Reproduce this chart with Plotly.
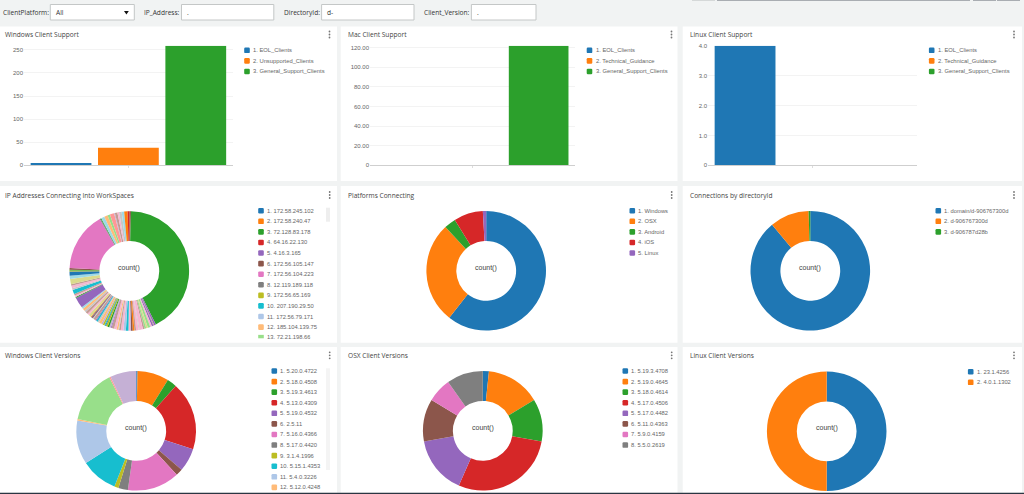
import plotly.graph_objects as go

W, H = 1024, 494

palette = ["#1f77b4", "#ff7f0e", "#2ca02c", "#d62728", "#9467bd", "#8c564b", "#e377c2", "#7f7f7f", "#bcbd22", "#17becf",
           "#aec7e8", "#ffbb78", "#98df8a", "#ff9896", "#c5b0d5", "#c49c94", "#f7b6d2", "#c7c7c7", "#dbdb8d", "#9edae5"]

# bar panels
win_support_labels = ["1. EOL_Clients", "2. Unsupported_Clients", "3. General_Support_Clients"]
win_support_values = [5, 38, 259]
win_ticks = [0, 50, 100, 150, 200, 250]
win_ticktext = ["0", "50", "100", "150", "200", "250"]

mac_support_labels = ["1. EOL_Clients", "2. Technical_Guidance", "3. General_Support_Clients"]
mac_support_values = [0, 0, 122]
mac_ticks = [0, 20, 40, 60, 80, 100, 120]
mac_ticktext = ["0", "20.00", "40.00", "60.00", "80.00", "100.00", "120.00"]

linux_support_labels = ["1. EOL_Clients", "2. Technical_Guidance", "3. General_Support_Clients"]
linux_support_values = [4, 0, 0]
linux_ticks = [0, 1, 2, 3, 4]
linux_ticktext = ["0", "1.0", "2.0", "3.0", "4.0"]

# donut panels
ip_legend = ["1. 172.58.245.102", "2. 172.58.240.47", "3. 72.128.83.178", "4. 64.16.22.130", "5. 4.16.3.165",
             "6. 172.56.105.147", "7. 172.56.104.223", "8. 12.119.189.118", "9. 172.56.65.169", "10. 207.190.29.50",
             "11. 172.56.79.171", "12. 185.104.139.75", "13. 72.21.198.66"]
# slices clockwise from 12 o'clock, as seen in the picture
ip_values = [2, 185,
             2, 1, 2, 2, 3, 2, 2, 2, 4, 1, 3, 2, 2, 2, 1, 2, 3, 3, 3, 2, 1,
             2, 3, 3, 1, 2, 2, 2, 1, 1, 2, 2, 3, 2, 2, 1, 3, 1, 1, 1, 1,
             3, 2, 3, 2, 3, 2,
             13,
             1, 2, 2, 5, 2, 3, 2, 6, 4, 5, 1, 1, 2,
             70,
             1, 1, 4, 4, 3, 5, 1, 3, 2, 3, 3, 4, 2]
ip_color_ids = [5, 2,
                4, 15, 4, 16, 12, 18, 12, 15, 16, 17, 16, 15, 1, 5, 14, 16, 9, 10, 16, 15, 17,
                11, 16, 15, 4, 14, 2, 8, 0, 9, 8, 14, 11, 17, 9, 4, 15, 19, 3, 0, 1,
                18, 16, 15, 17, 11, 19,
                4,
                2, 16, 15, 9, 17, 16, 15, 18, 19, 0, 8, 2, 5,
                6,
                7, 2, 19, 11, 12, 13, 14, 15, 16, 17, 19, 1, 3]

platform_legend = ["1. Windows", "2. OSX", "3. Android", "4. iOS", "5. Linux"]
platform_values = [269, 122, 14, 35, 4]

directory_legend = ["1. domain/d-906767300d", "2. d-906767300d", "3. d-906787d28b"]
directory_values = [395, 47, 2]

win_ver_legend = ["1. 5.20.0.4722", "2. 5.18.0.4508", "3. 5.19.3.4613", "4. 5.13.0.4309", "5. 5.19.0.4532", "6. 2.5.11",
                  "7. 5.16.0.4366", "8. 5.17.0.4420", "9. 3.1.4.1996", "10. 5.15.1.4353", "11. 5.4.0.3226",
                  "12. 5.12.0.4248"]
win_ver_values = [1, 23, 7, 50, 17, 5, 38, 7, 3, 27, 32, 1, 39, 1, 19]

osx_ver_legend = ["1. 5.19.3.4708", "2. 5.19.0.4645", "3. 5.18.0.4614", "4. 5.17.0.4506", "5. 5.17.0.4482",
                  "6. 5.11.0.4363", "7. 5.9.0.4159", "8. 5.5.0.2619"]
osx_ver_values = [2, 18, 14, 35, 19, 14, 8, 12]

linux_ver_legend = ["1. 23.1.4256", "2. 4.0.1.1302"]
linux_ver_values = [2, 2]

TITLE_FONT = dict(family="Open Sans", size=6.6, color="#444444")
LABEL_FONT = dict(family="Liberation Sans", size=5.8, color="#666666")
TICK_FONT = dict(family="Liberation Sans", size=6, color="#666666")
BG = "#f1f3f3"


def fx(px):
    return px / W


def fy(py):
    return 1 - py / H


fig = go.Figure()
shapes = []
annotations = []


def rect(x0, y0, x1, y1, fill, line=None):
    shapes.append(dict(type="rect", xref="paper", yref="paper", x0=fx(x0), y0=fy(y0), x1=fx(x1), y1=fy(y1),
                       fillcolor=fill, line=dict(color=line or fill, width=1 if line else 0), layer="below"))


def text(px, py, s, font, xanchor="left", **kw):
    annotations.append(dict(xref="paper", yref="paper", x=fx(px), y=fy(py), text=s, showarrow=False,
                            xanchor=xanchor, yanchor="middle", font=font, borderpad=0, **kw))


def kebab(px, py):
    for d in (-3, 0, 3):
        shapes.append(dict(type="circle", xref="paper", yref="paper", x0=fx(px - 0.9), x1=fx(px + 0.9),
                           y0=fy(py + d + 0.9), y1=fy(py + d - 0.9), fillcolor="#777777", line_width=0))


def legend(labels, mx, tx, y0, colors=palette, pitch=10.58, clip_last=None):
    for i, lab in enumerate(labels):
        y = y0 + i * pitch
        r = 2.8
        c = 1.2
        path = (f"M {fx(mx-r+c)},{fy(y-r)} L {fx(mx+r-c)},{fy(y-r)} Q {fx(mx+r)},{fy(y-r)} {fx(mx+r)},{fy(y-r+c)} "
                f"L {fx(mx+r)},{fy(y+r-c)} Q {fx(mx+r)},{fy(y+r)} {fx(mx+r-c)},{fy(y+r)} L {fx(mx-r+c)},{fy(y+r)} "
                f"Q {fx(mx-r)},{fy(y+r)} {fx(mx-r)},{fy(y+r-c)} L {fx(mx-r)},{fy(y-r+c)} Q {fx(mx-r)},{fy(y-r)} "
                f"{fx(mx-r+c)},{fy(y-r)} Z")
        if clip_last is not None and i == len(labels) - 1:
            # the last row is cut off by the panel in the original
            rect(mx - r, y - r, mx + r, clip_last, colors[i % 20])
            annotations.append(dict(xref="paper", yref="paper", x=fx(tx), y=fy(y - 4.5), text=lab, showarrow=False,
                                    xanchor="left", yanchor="top", valign="top", font=LABEL_FONT, borderpad=0,
                                    height=clip_last - y + 4.5))
        else:
            shapes.append(dict(type="path", xref="paper", yref="paper", path=path, fillcolor=colors[i % 20],
                               line_width=0))
            text(tx, y, lab, LABEL_FONT)


# page background, filter strip and panels
rows = [(26.5, 181), (186, 342.7), (347, 492.7)]
cols = [(0, 337), (340.7, 677.5), (682.7, 1022)]
for y0, y1 in rows:
    for x0, x1 in cols:
        rect(x0, y0, x1, y1, "white")
rect(0, 492.7, W, H, "#2b3642")
for x0, x1, c in [(692, 715, "#d5d8d8"), (717, 970, "#a9adb2"), (973, 996, "#a9adb2"), (997, 1020, "#a9adb2")]:
    rect(x0, 0, x1, 1, c)

filters = [("ClientPlatform:", 2, 50.3, 134.3, "All"), ("IP_Address:", 143, 181.5, 273.8, "."),
           ("DirectoryId:", 283, 321.6, 414, "d-"), ("Client_Version:", 423, 471.4, 536, ".")]
filter_font = dict(family="Open Sans", size=6.6, color="#333333")
for name, lx, x0, x1, val in filters:
    text(lx, 13, name, filter_font)
    rect(x0, 4.5, x1, 20, "white", "#c4c7c7")
    text(x0 + 4.5, 13, val, filter_font)
shapes.append(dict(type="path", xref="paper", yref="paper", fillcolor="#111111", line_width=0,
                   path=f"M {fx(124)},{fy(11)} L {fx(128.8)},{fy(11)} L {fx(126.4)},{fy(14.6)} Z"))

# bar panels
bar_panels = [
    ("Windows Client Support", 4, win_support_labels, win_support_values, win_ticks, win_ticktext, 24, 232.8, 259, 329.5, 247, 252.4),
    ("Mac Client Support", 346.8, mac_support_labels, mac_support_values, mac_ticks, mac_ticktext, 370, 575, 122, 671.5, 589.5, 595),
    ("Linux Client Support", 688.7, linux_support_labels, linux_support_values, linux_ticks, linux_ticktext, 708, 917, 4, 1014, 931.7, 936.7),
]
layout_axes = {}
for n, (title, tx, labels, values, ticks, ticktext, x0, x1, ymax, kx, mx, lx) in enumerate(bar_panels, start=1):
    suffix = "" if n == 1 else str(n)
    for i, (lab, val) in enumerate(zip(labels, values)):
        fig.add_trace(go.Bar(x=["count"], y=[val], name=lab, marker=dict(color=palette[i], line_width=0),
                             xaxis=f"x{suffix}", yaxis=f"y{suffix}", showlegend=False))
    layout_axes[f"xaxis{suffix}"] = dict(domain=[fx(x0), fx(x1)], anchor=f"y{suffix}", type="category",
                                         range=[-0.5, 0.5], showticklabels=False, ticks="outside", ticklen=2,
                                         tickcolor="#dddddd", showgrid=False, showline=True, linecolor="#cfcfcf",
                                         linewidth=1, zeroline=False, automargin=False)
    layout_axes[f"yaxis{suffix}"] = dict(domain=[fy(165.3), fy(45.7)], anchor=f"x{suffix}", range=[0, ymax],
                                         tickvals=ticks, ticktext=ticktext, gridcolor="#f3f3f3", gridwidth=1,
                                         zeroline=False, showline=False, ticks="", automargin=False,
                                         tickfont=TICK_FONT)
    text(tx, 34.3, title, TITLE_FONT)
    kebab(kx, 34.5)
    legend(labels, mx, lx, 50.3)

# donut panels: values, colours, title, title x, kebab x, row y's, centre, legend
R = 59.8
pie_panels = [
    ("IP Addresses Connecting Into WorkSpaces", 4, 329.7, 195, ip_values, [palette[i] for i in ip_color_ids], 129.3, 271, ip_legend, 261, 266, 210.7),
    ("Platforms Connecting", 346.7, 671.7, 195, platform_values, palette, 486.2, 270.8, platform_legend, 632.3, 637, 210.7),
    ("Connections by directoryId", 688.7, 1014, 195, directory_values, palette, 810.3, 270.8, directory_legend, 938.3, 943.3, 210.7),
    ("Windows Client Versions", 4, 329.7, 355.3, win_ver_values, palette, 136.2, 430.8, win_ver_legend, 274.3, 279.3, 371),
    ("OSX Client Versions", 346.7, 671.7, 355.3, osx_ver_values, palette, 482.8, 430.8, osx_ver_legend, 625.3, 630.3, 371),
    ("Linux Client Versions", 688.7, 1014, 355.3, linux_ver_values, palette, 826.7, 431.3, linux_ver_legend, 970.7, 976, 371.7),
]
for title, tx, kx, ty, values, colors, cx, cy, leg, mx, lx, ly in pie_panels:
    fig.add_trace(go.Pie(values=values, sort=False, direction="clockwise", rotation=0, hole=0.5,
                         marker=dict(colors=colors, line_width=0), textinfo="none", showlegend=False,
                         domain=dict(x=[fx(cx - R), fx(cx + R)], y=[fy(cy + R), fy(cy - R)])))
    text(tx, ty, title, TITLE_FONT)
    kebab(kx, ty)
    text(cx, cy - 3, "count()", dict(family="Liberation Sans", size=7, color="#444444"), xanchor="center")
    if leg is ip_legend:
        legend(leg, mx, lx, ly, clip_last=338.3)
    else:
        legend(leg, mx, lx, ly)

# legend scrollbars
rect(326, 207.7, 330, 221.7, "#eeeeee")
rect(326, 368.3, 330, 470, "#f4f4f4")

fig.update_layout(width=W, height=H, margin=dict(l=0, r=0, t=0, b=0, autoexpand=False), paper_bgcolor=BG,
                  plot_bgcolor="white", barmode="group", bargap=0.032, bargroupgap=0.098, showlegend=False,
                  shapes=shapes, annotations=annotations, **layout_axes)

fig.write_html("out.html", config=dict(displayModeBar=False),
               post_script="document.body.style.margin='0';document.body.style.overflow='hidden';")
